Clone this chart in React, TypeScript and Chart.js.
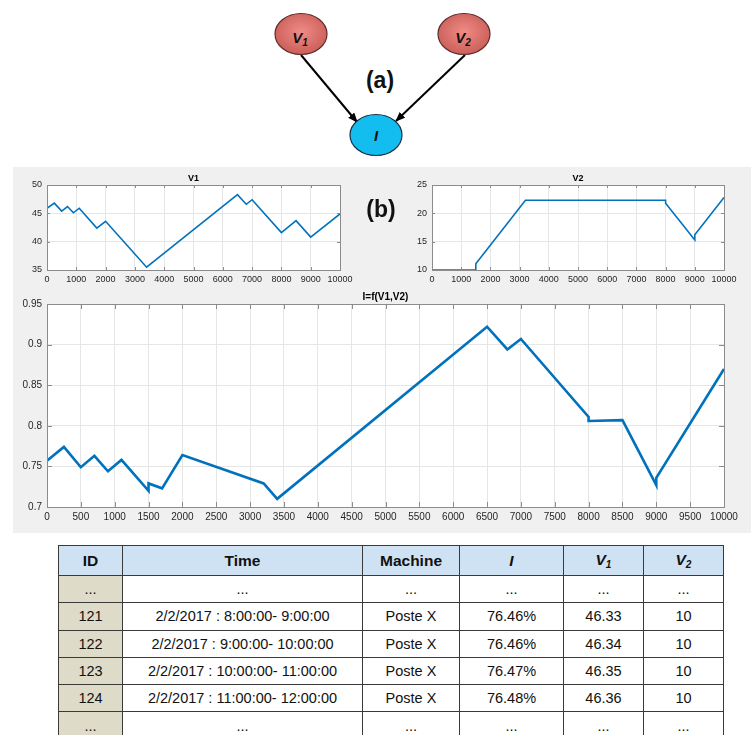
import React, { useEffect, useRef } from "react";
import { Chart, registerables } from "chart.js";

Chart.register(...registerables);

// ---- Data ----
const V1_X = [0, 250, 500, 700, 900, 1100, 1700, 2000, 3400, 6500, 6800, 7000, 8000, 8500, 9000, 10000];
const V1_Y = [45.9, 46.8, 45.4, 46.2, 45.1, 45.9, 42.4, 43.6, 35.5, 48.3, 46.6, 47.4, 41.6, 43.7, 40.8, 44.9];

const V2_X = [0, 1500, 1500, 3200, 8000, 8000, 9000, 9000, 10000];
const V2_Y = [10, 10, 11.1, 22.3, 22.3, 21.8, 15.3, 16.2, 22.8];

const I_X = [0, 250, 500, 700, 900, 1100, 1500, 1500, 1700, 2000, 3200, 3400, 6500, 6800, 7000, 8000, 8000, 8500, 9000, 9000, 10000];
const I_Y = [0.757, 0.774, 0.749, 0.763, 0.744, 0.758, 0.72, 0.729, 0.723, 0.764, 0.729, 0.71, 0.922, 0.894, 0.907, 0.811, 0.806, 0.807, 0.727, 0.736, 0.87];

const TABLE_IDS = ["...", "121", "122", "123", "124", "..."];
const TABLE_TIMES = [
  "...",
  "2/2/2017 : 8:00:00- 9:00:00",
  "2/2/2017 : 9:00:00- 10:00:00",
  "2/2/2017 : 10:00:00- 11:00:00",
  "2/2/2017 : 11:00:00- 12:00:00",
  "...",
];
const TABLE_MACHINES = ["...", "Poste X", "Poste X", "Poste X", "Poste X", "..."];
const TABLE_I = ["...", "76.46%", "76.46%", "76.47%", "76.48%", "..."];
const TABLE_V1 = ["...", "46.33", "46.34", "46.35", "46.36", "..."];
const TABLE_V2 = ["...", "10", "10", "10", "10", "..."];

const FONT = "'Liberation Sans', Arial, Helvetica, sans-serif";

type ChartSpec = {
  xs: number[];
  ys: number[];
  title: string;
  xStep: number;
  yMin: number;
  yMax: number;
  yStep: number;
  yAxisW: number;
  xAxisH: number;
  pad: { left: number; top: number; right: number; bottom: number };
  lineW: number;
  fontSize: number;
  titleSize: number;
  tickLen: number;
  xPad: number;
  yPad: number;
};

const matlabPlugin = {
  id: "matlabBox",
  beforeDraw(chart: any) {
    const { ctx, chartArea } = chart;
    ctx.save();
    ctx.fillStyle = "#ffffff";
    ctx.fillRect(chartArea.left, chartArea.top, chartArea.right - chartArea.left, chartArea.bottom - chartArea.top);
    ctx.restore();
  },
  afterDatasetsDraw(chart: any, _args: any, opts: any) {
    const { ctx, chartArea } = chart;
    const { left, right, top, bottom } = chartArea;
    const xs = chart.scales.x;
    const ys = chart.scales.y;
    const len = opts.tickLen || 4;
    ctx.save();
    ctx.strokeStyle = "#8c8c8c";
    ctx.lineWidth = 1;
    ctx.beginPath();
    xs.ticks.forEach((t: any) => {
      const p = Math.round(xs.getPixelForValue(t.value)) + 0.5;
      ctx.moveTo(p, bottom);
      ctx.lineTo(p, bottom - len);
      ctx.moveTo(p, top);
      ctx.lineTo(p, top + len);
    });
    ys.ticks.forEach((t: any) => {
      const p = Math.round(ys.getPixelForValue(t.value)) + 0.5;
      ctx.moveTo(left, p);
      ctx.lineTo(left + len, p);
      ctx.moveTo(right, p);
      ctx.lineTo(right - len, p);
    });
    ctx.stroke();
    ctx.strokeRect(Math.round(left) + 0.5, Math.round(top) + 0.5, Math.round(right - left), Math.round(bottom - top));
    ctx.fillStyle = "#000";
    ctx.font = `bold ${opts.titleSize}px ${FONT}`;
    ctx.textAlign = "center";
    ctx.textBaseline = "bottom";
    ctx.fillText(opts.title, (left + right) / 2, top - 2);
    ctx.restore();
  },
};

function LineChart({ spec, width, height, style }: { spec: ChartSpec; width: number; height: number; style: React.CSSProperties }) {
  const ref = useRef<HTMLCanvasElement | null>(null);
  useEffect(() => {
    if (!ref.current) return;
    const data = spec.xs.map((x, i) => ({ x, y: spec.ys[i] }));
    const chart = new Chart(ref.current, {
      type: "line",
      data: {
        datasets: [
          {
            data,
            borderColor: "#0072BD",
            borderWidth: spec.lineW,
            pointRadius: 0,
            tension: 0,
            fill: false,
          },
        ],
      },
      options: {
        animation: false,
        responsive: false,
        devicePixelRatio: 1,
        layout: { padding: spec.pad },
        plugins: {
          legend: { display: false },
          tooltip: { enabled: false },
          title: { display: false },
          matlabBox: { title: spec.title, titleSize: spec.titleSize, tickLen: spec.tickLen },
        } as any,
        scales: {
          x: {
            type: "linear",
            min: 0,
            max: 10000,
            ticks: {
              stepSize: spec.xStep,
              autoSkip: false,
              maxRotation: 0,
              padding: spec.xPad,
              color: "#262626",
              font: { family: FONT, size: spec.fontSize },
              callback: (v: any) => String(v),
            },
            grid: { color: "#e6e6e6", drawTicks: false },
            border: { display: false },
            afterFit: (s: any) => {
              s.height = spec.xAxisH;
            },
          },
          y: {
            type: "linear",
            min: spec.yMin,
            max: spec.yMax,
            ticks: {
              stepSize: spec.yStep,
              autoSkip: false,
              padding: spec.yPad,
              color: "#262626",
              font: { family: FONT, size: spec.fontSize },
              callback: (v: any) => String(Math.round(Number(v) * 100) / 100),
            },
            grid: { color: "#e6e6e6", drawTicks: false },
            border: { display: false },
            afterFit: (s: any) => {
              s.width = spec.yAxisW;
            },
          },
        },
      },
      plugins: [matlabPlugin],
    } as any);
    return () => chart.destroy();
  }, []);
  return <canvas ref={ref} width={width} height={height} style={{ position: "absolute", width, height, ...style }} />;
}

const V1_SPEC: ChartSpec = {
  xs: V1_X, ys: V1_Y, title: "V1", xStep: 1000, yMin: 35, yMax: 50, yStep: 5,
  yAxisW: 34, xAxisH: 22, pad: { left: 0, top: 17, right: 23, bottom: 0 },
  lineW: 1.6, fontSize: 9, titleSize: 9, tickLen: 3, xPad: 4, yPad: 5,
};
const V2_SPEC: ChartSpec = {
  xs: V2_X, ys: V2_Y, title: "V2", xStep: 1000, yMin: 10, yMax: 25, yStep: 5,
  yAxisW: 32, xAxisH: 22, pad: { left: 0, top: 17, right: 27, bottom: 0 },
  lineW: 1.6, fontSize: 9, titleSize: 9, tickLen: 3, xPad: 4, yPad: 5,
};
const I_SPEC: ChartSpec = {
  xs: I_X, ys: I_Y, title: "I=f(V1,V2)", xStep: 500, yMin: 0.7, yMax: 0.95, yStep: 0.05,
  yAxisW: 34, xAxisH: 23, pad: { left: 0, top: 14, right: 27, bottom: 0 },
  lineW: 2.6, fontSize: 10, titleSize: 10, tickLen: 5, xPad: 4, yPad: 5,
};

function Diagram() {
  return (
    <svg width={751} height={165} style={{ position: "absolute", left: 0, top: 0 }}>
      <defs>
        <radialGradient id="redG" cx="50%" cy="45%" r="60%">
          <stop offset="0%" stopColor="#f08c86" />
          <stop offset="100%" stopColor="#c85a55" />
        </radialGradient>
        <marker id="arr" markerWidth="10" markerHeight="8" refX="9" refY="4" orient="auto" markerUnits="userSpaceOnUse">
          <path d="M0,0 L10,4 L0,8 z" fill="#000" />
        </marker>
      </defs>
      <line x1={301} y1={55} x2={357} y2={122} stroke="#000" strokeWidth={2} markerEnd="url(#arr)" />
      <line x1={465} y1={55} x2={396} y2={121} stroke="#000" strokeWidth={2} markerEnd="url(#arr)" />
      <ellipse cx={301} cy={34} rx={26} ry={20.5} fill="url(#redG)" stroke="#5a2a2a" strokeWidth={1.2} />
      <ellipse cx={464} cy={34} rx={26} ry={20.5} fill="url(#redG)" stroke="#5a2a2a" strokeWidth={1.2} />
      <ellipse cx={376} cy={135} rx={26} ry={20.5} fill="#13bdf0" stroke="#1b2d40" strokeWidth={1.2} />
      <text x={300} y={43} textAnchor="middle" fontFamily={FONT} fontWeight="bold" fontStyle="italic" fontSize={15} fill="#111">
        V<tspan fontSize={10} dy={3}>1</tspan>
      </text>
      <text x={463} y={43} textAnchor="middle" fontFamily={FONT} fontWeight="bold" fontStyle="italic" fontSize={15} fill="#111">
        V<tspan fontSize={10} dy={3}>2</tspan>
      </text>
      <text x={376} y={141} textAnchor="middle" fontFamily={FONT} fontWeight="bold" fontStyle="italic" fontSize={15} fill="#111">
        I
      </text>
      <text x={380} y={88} textAnchor="middle" fontFamily={FONT} fontWeight="bold" fontSize={23} fill="#111">
        (a)
      </text>
    </svg>
  );
}

function Sub({ base, sub }: { base: string; sub: string }) {
  return (
    <span style={{ fontStyle: "italic" }}>
      {base}
      <sub style={{ fontSize: "0.65em", verticalAlign: "-0.3em" }}>{sub}</sub>
    </span>
  );
}

function DataTable() {
  const colW = [64, 240, 97, 104, 80, 80];
  const border = "1px solid #3a3a3a";
  const cell = (bg: string, bold = false): React.CSSProperties => ({
    border,
    background: bg,
    textAlign: "center",
    padding: 0,
    fontWeight: bold ? "bold" : "normal",
    overflow: "hidden",
    whiteSpace: "nowrap",
  });
  const hdrBg = "#cfe2f3";
  const idBg = "#dedbc9";
  return (
    <table
      style={{
        position: "absolute",
        left: 58,
        top: 545,
        borderCollapse: "collapse",
        tableLayout: "fixed",
        width: 666,
        fontFamily: FONT,
        fontSize: 14.5,
        color: "#111",
      }}
    >
      <colgroup>
        {colW.map((w, i) => (
          <col key={i} style={{ width: w }} />
        ))}
      </colgroup>
      <thead>
        <tr style={{ height: 30 }}>
          <th style={{ ...cell(hdrBg, true), fontSize: 15.5 }}>ID</th>
          <th style={{ ...cell(hdrBg, true), fontSize: 15.5 }}>Time</th>
          <th style={{ ...cell(hdrBg, true), fontSize: 15.5 }}>Machine</th>
          <th style={{ ...cell(hdrBg, true), fontSize: 15.5 }}>
            <span style={{ fontStyle: "italic" }}>I</span>
          </th>
          <th style={{ ...cell(hdrBg, true), fontSize: 15.5 }}>
            <Sub base="V" sub="1" />
          </th>
          <th style={{ ...cell(hdrBg, true), fontSize: 15.5 }}>
            <Sub base="V" sub="2" />
          </th>
        </tr>
      </thead>
      <tbody>
        {TABLE_IDS.map((id, r) => (
          <tr key={r} style={{ height: 27.3 }}>
            <td style={cell(idBg)}>{id}</td>
            <td style={cell("#fff")}>{TABLE_TIMES[r]}</td>
            <td style={cell("#fff")}>{TABLE_MACHINES[r]}</td>
            <td style={cell("#fff")}>{TABLE_I[r]}</td>
            <td style={cell("#fff")}>{TABLE_V1[r]}</td>
            <td style={cell("#fff")}>{TABLE_V2[r]}</td>
          </tr>
        ))}
      </tbody>
    </table>
  );
}

export default function App() {
  return (
    <div style={{ position: "absolute", left: 0, top: 0, width: 751, height: 735, overflow: "hidden", background: "#fff" }}>
      <Diagram />
      <div style={{ position: "absolute", left: 13, top: 167, width: 738, height: 366, background: "#f0f0f0" }} />
      <LineChart spec={V1_SPEC} width={350} height={124} style={{ left: 13, top: 168 }} />
      <LineChart spec={V2_SPEC} width={351} height={124} style={{ left: 400, top: 168 }} />
      <LineChart spec={I_SPEC} width={738} height={240} style={{ left: 13, top: 290 }} />
      <div
        style={{
          position: "absolute",
          left: 360,
          top: 196,
          width: 42,
          textAlign: "center",
          fontFamily: FONT,
          fontWeight: "bold",
          fontSize: 23,
          color: "#111",
        }}
      >
        (b)
      </div>
      <DataTable />
    </div>
  );
}
